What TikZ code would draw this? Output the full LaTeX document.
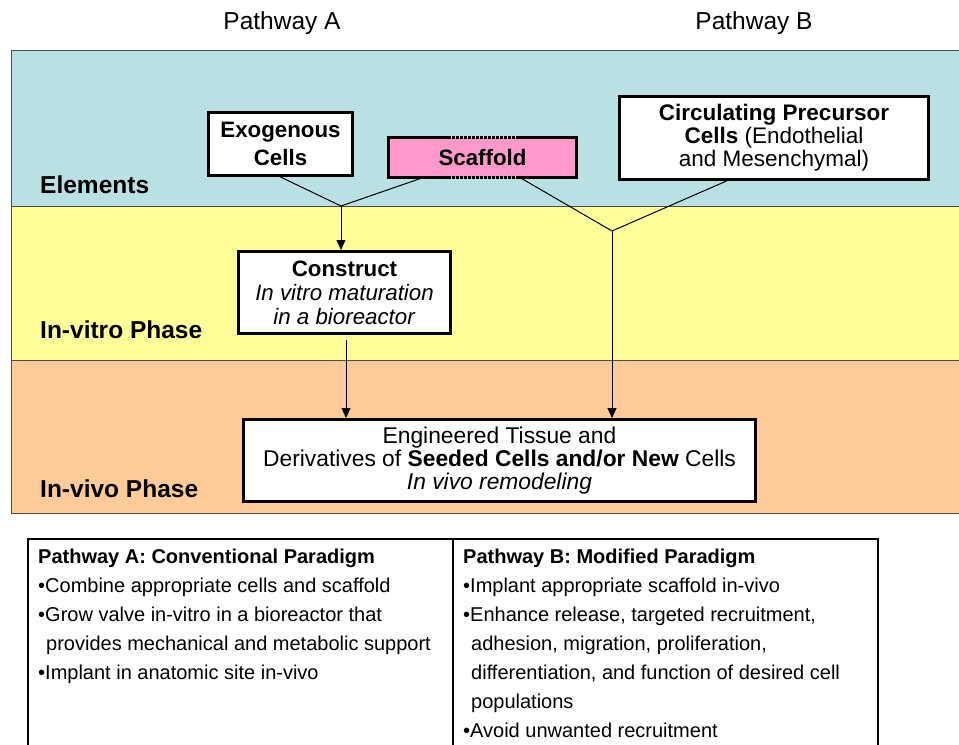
\documentclass[tikz,border=0pt]{standalone}
\usepackage{fontspec}
\setmainfont{Liberation Sans}
\usetikzlibrary{arrows.meta}
\definecolor{elemblue}{RGB}{185,224,227}
\definecolor{vitroyel}{RGB}{255,255,153}
\definecolor{vivoorg}{RGB}{255,204,153}
\definecolor{scafpink}{RGB}{255,153,204}
\begin{document}
\begin{tikzpicture}[x=1bp,y=-1bp,
  box/.style={draw=black, line width=3bp, fill=white, inner sep=0pt, align=center},
  conn/.style={line width=1bp},
  arr/.style={line width=1bp, -{Triangle[width=9bp,length=10bp]}},
  band/.style={draw=black!70, line width=1bp},
  bandlabel/.style={anchor=base west, font=\fontsize{24.5bp}{28bp}\selectfont\bfseries, inner sep=0pt},
  toplabel/.style={anchor=base, font=\fontsize{24.5bp}{28bp}\selectfont, inner sep=0pt},
  tabtext/.style={anchor=north west, align=left, inner sep=0pt, font=\fontsize{20bp}{29bp}\selectfont},
]
\useasboundingbox (0,0) rectangle (959,745);
\clip (0,0) rectangle (959,745);
% bands
\fill[elemblue] (11,51) rectangle (975,206);
\fill[vitroyel] (11,206) rectangle (975,360);
\fill[vivoorg] (11,360) rectangle (975,513);
\draw[band] (975,51) -- (11,51) -- (11,513) -- (975,513);
\draw[band] (11,206) -- (975,206);
\draw[band] (11,360) -- (975,360);
\node[bandlabel] (lelem) at (40,193) {Elements};
\node[bandlabel] (lvitro) at (40,338) {In-vitro Phase};
\node[bandlabel] (lvivo) at (40,497) {In-vivo Phase};
\node[toplabel] (pa) at (282,30) {Pathway A};
\node[toplabel] (pb) at (754,30) {Pathway B};
% boxes
\node[box, minimum width=144bp, minimum height=63bp, font=\fontsize{22.3bp}{28bp}\selectfont\bfseries] (exo) at (280.5,144) {Exogenous\\Cells};
\node[fill=scafpink, inner sep=0pt, minimum width=188bp, minimum height=40bp, font=\fontsize{22.3bp}{24bp}\selectfont\bfseries] (scaf) at (482.5,157.5) {Scaffold};
\draw[line width=3bp] ([xshift=59.5bp]scaf.north west) -| (scaf.south west) -- ([xshift=59.5bp]scaf.south west);
\draw[line width=3bp] ([xshift=-59.5bp]scaf.north east) -| (scaf.south east) -- ([xshift=-59.5bp]scaf.south east);
\draw[line width=3bp, densely dotted] ([xshift=59.5bp]scaf.north west) -- ([xshift=-59.5bp]scaf.north east);
\draw[line width=3bp, densely dotted] ([xshift=59.5bp]scaf.south west) -- ([xshift=-59.5bp]scaf.south east);
\node[box, minimum width=309bp, minimum height=83bp, font=\fontsize{22.5bp}{23bp}\selectfont] (circ) at (774,138) {\textbf{Circulating Precursor}\\\textbf{Cells} (Endothelial\\and Mesenchymal)};
\node[box, minimum width=212bp, minimum height=82bp, font=\fontsize{22.3bp}{24bp}\selectfont] (con) at (344.5,292.5) {\textbf{Construct}\\\textit{In vitro maturation}\\\textit{in a bioreactor}};
\node[box, minimum width=512bp, minimum height=82bp, font=\fontsize{22.8bp}{23bp}\selectfont] (eng) at (499.5,460.5) {Engineered Tissue and\\Derivatives of \textbf{Seeded Cells and/or New} Cells\\\textit{In vivo remodeling}};
% connectors
\coordinate (ja) at (341,206);
\coordinate (jb) at (612,231);
\draw[conn] (exo.south) -- (ja);
\draw[conn] ([xshift=34.5bp]scaf.south west) -- (ja);
\draw[arr] (ja) -- (ja |- con.north);
\draw[conn] ([xshift=-56.5bp]scaf.south east) -- (jb);
\draw[conn] ([xshift=108.5bp]circ.south west) -- (jb);
\draw[arr] (jb) -- (jb |- eng.north);
\draw[arr] ([xshift=1.5bp,yshift=-5bp]con.south) -- ([xshift=1.5bp]con.south |- eng.north);
% table
\draw[line width=2.5bp] (28,539) rectangle (878,746.2);
\draw[line width=1.5bp] (453,539) -- (453,746);
\node[tabtext] (ta) at (38,548.5) {\textbf{Pathway A: Conventional Paradigm}\\
•Combine appropriate cells and scaffold\\
•Grow valve in-vitro in a bioreactor that\\
\hspace*{8bp}provides mechanical and metabolic support\\
•Implant in anatomic site in-vivo};
\node[tabtext] (tb) at (463,548.5) {\textbf{Pathway B: Modified Paradigm}\\
•Implant appropriate scaffold in-vivo\\
•Enhance release, targeted recruitment,\\
\hspace*{8bp}adhesion, migration, proliferation,\\
\hspace*{8bp}differentiation, and function of desired cell\\
\hspace*{8bp}populations\\
•Avoid unwanted recruitment};
\end{tikzpicture}
\end{document}
